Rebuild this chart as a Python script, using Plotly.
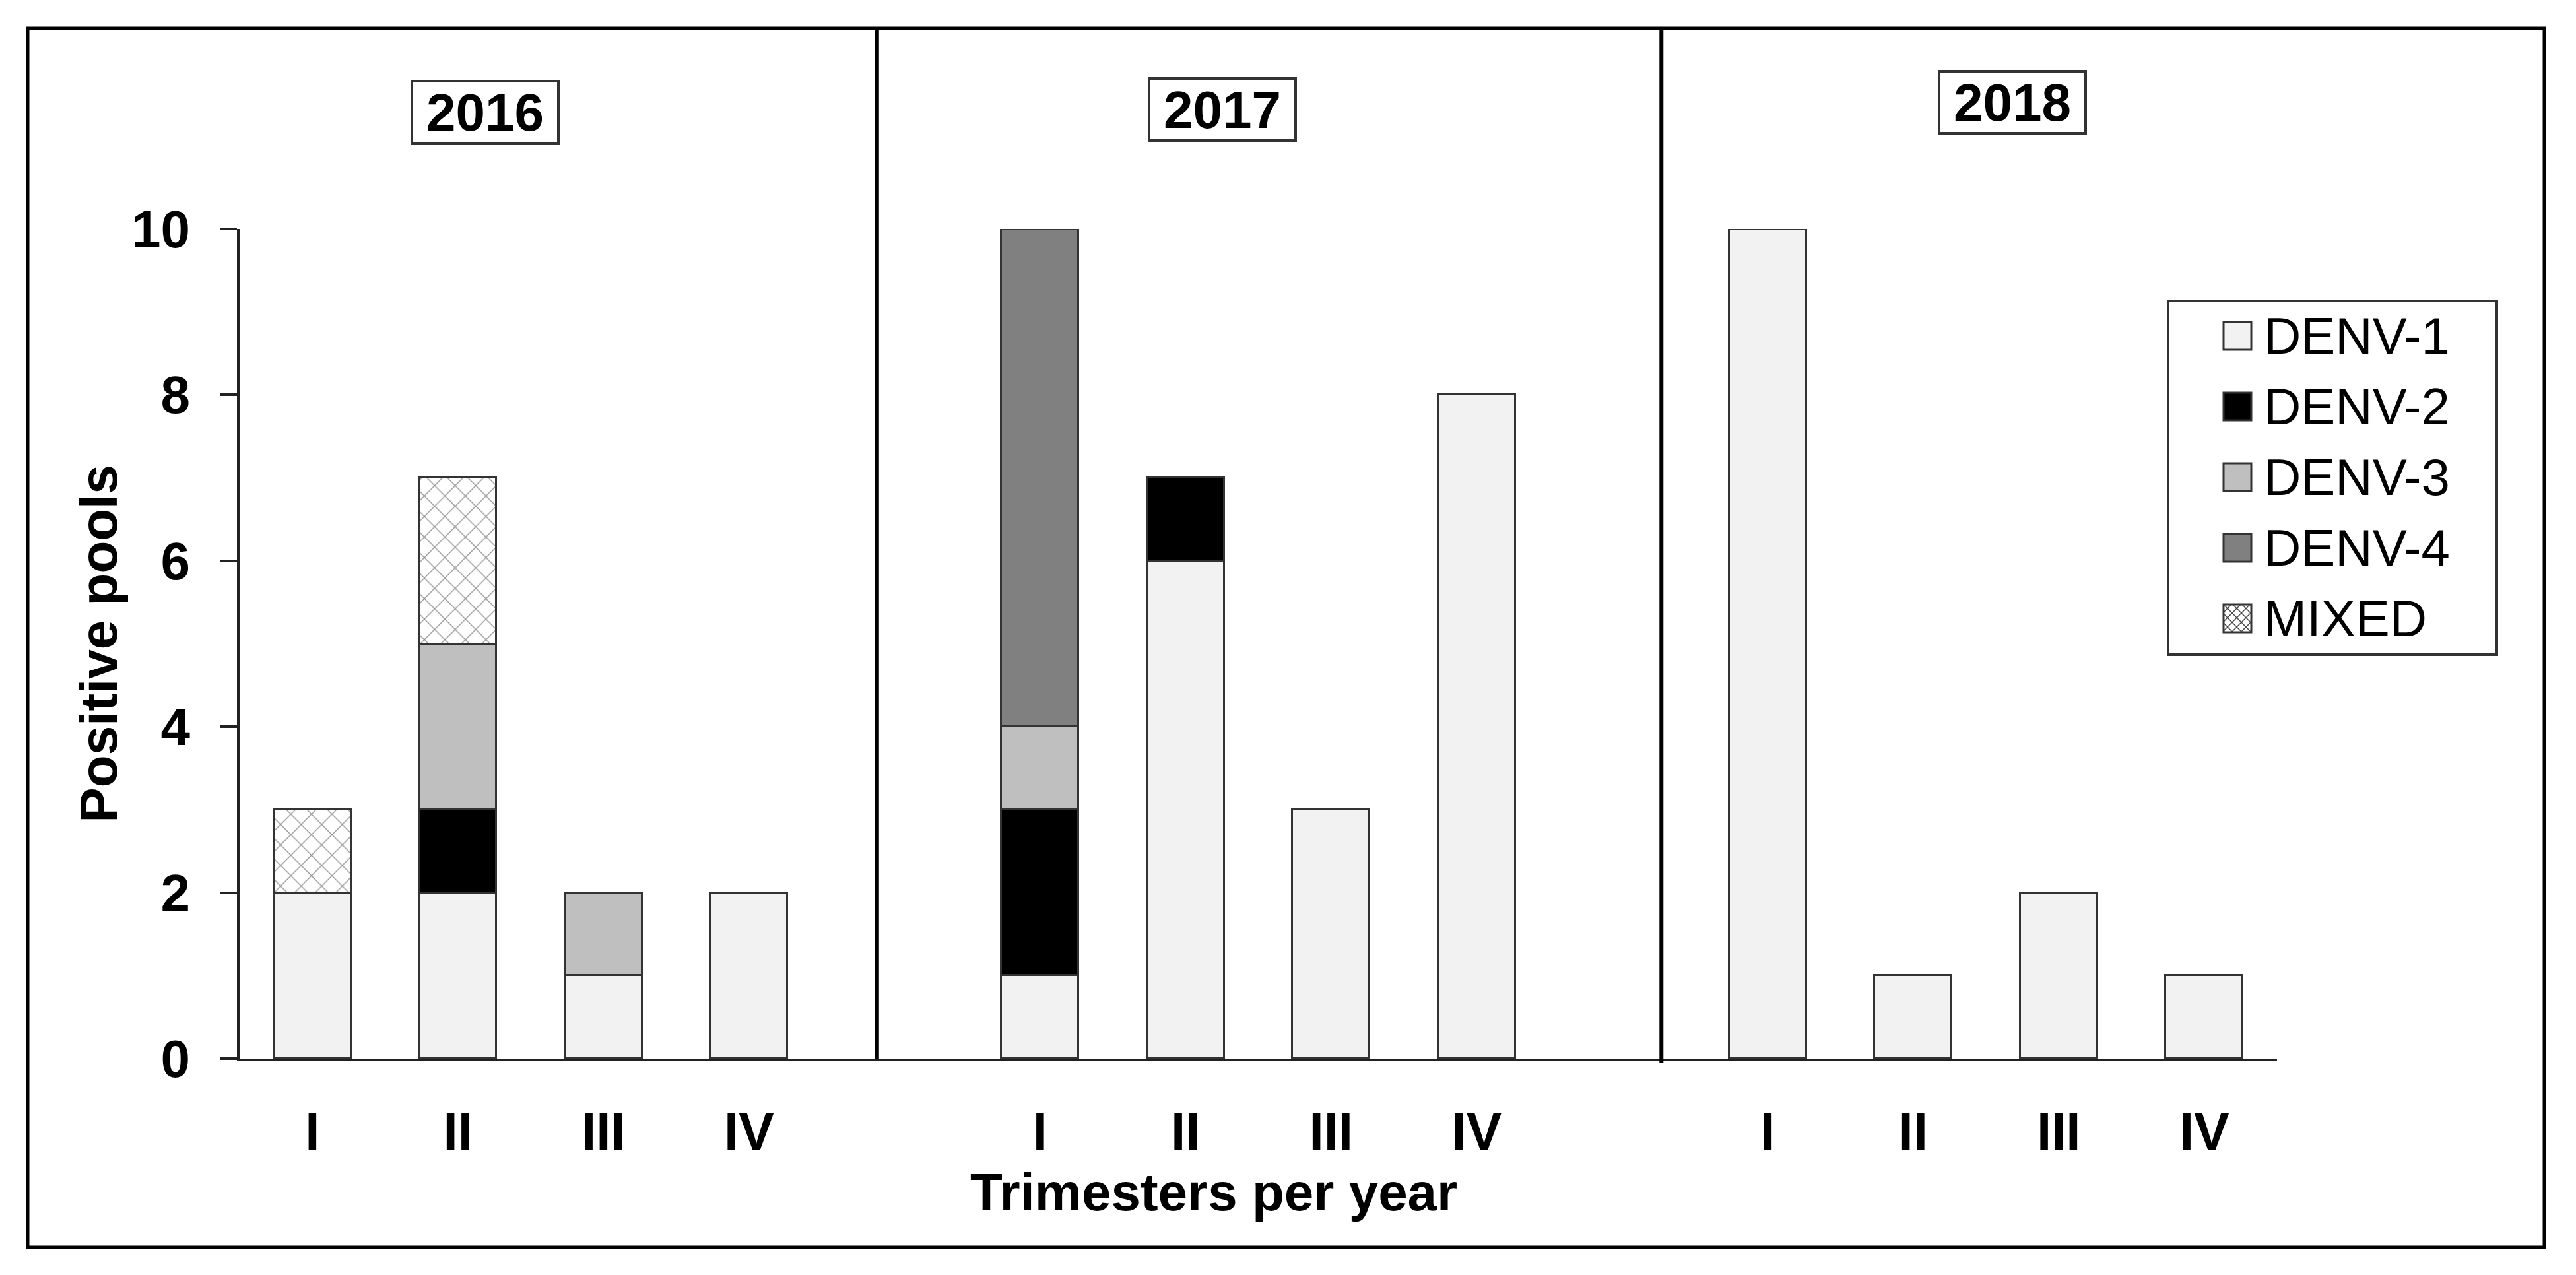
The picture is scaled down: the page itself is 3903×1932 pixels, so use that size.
import plotly.graph_objects as go

# ---------------- data ----------------
years = ["2016", "2017", "2018"]
trimesters = ["I", "II", "III", "IV"]
series_names = ["DENV-1", "DENV-2", "DENV-3", "DENV-4", "MIXED"]
# values ordered: 2016 I..IV, 2017 I..IV, 2018 I..IV  (None = no segment)
denv1 = [2, 2, 1, 2, 1, 6, 3, 8, 10, 1, 2, 1]
denv2 = [None, 1, None, None, 2, 1, None, None, None, None, None, None]
denv3 = [None, 2, 1, None, 1, None, None, None, None, None, None, None]
denv4 = [None, None, None, None, 6, None, None, None, None, None, None, None]
mixed = [1, 2, None, None, None, None, None, None, None, None, None, None]
y_ticks = [0, 2, 4, 6, 8, 10]

series_values = [denv1, denv2, denv3, denv4, mixed]
series_colors = ["#F2F2F2", "#000000", "#BFBFBF", "#808080", "#FFFFFF"]

# ---------------- layout geometry ----------------
FONT = "Liberation Sans, Arial, sans-serif"
FS = 80
W, H = 3887, 1916
OFF = 8  # page body margin
PL, PR, PT, PB = 363, 3450, 347, 1604  # plot area in screenshot pixels
ML, MT = PL - OFF, PT - OFF
MR = W - (PR - OFF)
MB = H - (PB - OFF)

slots_per_year = len(trimesters) + 1
x_pos = [yi * slots_per_year + qi for yi in range(len(years)) for qi in range(len(trimesters))]
x_labels = [t for _ in years for t in trimesters]
x_range = [-0.5, x_pos[-1] + 0.5]


def px(X):
    return (X - PL) / (PR - PL)


def py(Y):
    return (PB - Y) / (PB - PT)


def dx(xd):
    return (xd - x_range[0]) / (x_range[1] - x_range[0])


fig = go.Figure()
for name, vals, col in zip(series_names, series_values, series_colors):
    marker = dict(color=col, line=dict(color="#333333", width=3))
    if name == "MIXED":
        marker["pattern"] = dict(shape="x", bgcolor="#FFFFFF", fgcolor="#222222",
                                 size=22, solidity=0.12)
    fig.add_trace(go.Bar(x=x_pos, y=vals, name=name, marker=marker,
                         width=0.53, showlegend=False))

shapes = []
# outer frame
shapes.append(dict(type="rect", xref="paper", yref="paper",
                   x0=px(42), x1=px(3855), y0=py(1890), y1=py(43),
                   line=dict(color="#000000", width=5), layer="below"))
# year separators
for xd, ybot in [(3.88, 1604), (9.27, 1610)]:
    shapes.append(dict(type="line", xref="paper", yref="paper",
                       x0=dx(xd), x1=dx(xd), y0=py(ybot), y1=py(43),
                       line=dict(color="#000000", width=6)))

annotations = []
# year boxes
for yr, (cx, cy) in zip(years, [(735, 170), (1852, 166), (3049, 155)]):
    annotations.append(dict(text="<b>%s</b>" % yr, xref="paper", yref="paper",
                            x=px(cx), y=py(cy), xanchor="center", yanchor="middle",
                            showarrow=False, font=dict(family=FONT, size=FS, color="#000"),
                            bordercolor="#333333", borderwidth=4, borderpad=0,
                            bgcolor="#FFFFFF", width=218, height=90))
# axis titles
annotations.append(dict(text="<b>Positive pools</b>", xref="paper", yref="paper",
                        x=px(149), y=0.5, textangle=-90, showarrow=False,
                        xanchor="center", yanchor="middle",
                        font=dict(family=FONT, size=FS, color="#000")))
annotations.append(dict(text="<b>Trimesters per year</b>", xref="paper", yref="paper",
                        x=px(1839), y=py(1806), showarrow=False,
                        xanchor="center", yanchor="middle",
                        font=dict(family=FONT, size=FS, color="#000")))

# manual legend
shapes.append(dict(type="rect", xref="paper", yref="paper",
                   x0=px(3285), x1=px(3783), y0=py(992), y1=py(456),
                   line=dict(color="#333333", width=4), fillcolor="#FFFFFF"))
sw = 42
for i, (name, col) in enumerate(zip(series_names, series_colors)):
    cyp = 509 + i * 107
    x0, x1 = 3369, 3369 + sw
    y0, y1 = cyp - sw / 2, cyp + sw / 2
    shapes.append(dict(type="rect", xref="paper", yref="paper",
                       x0=px(x0), x1=px(x1), y0=py(y1), y1=py(y0),
                       line=dict(color="#333333", width=3), fillcolor=col))
    if name == "MIXED":
        segs = []
        for c in [12, 26, 40, 54, 68]:
            a, b = max(0, c - sw), min(sw, c)
            segs.append(((a, c - a), (b, c - b)))
        for c in [-28, -14, 0, 14, 28]:
            a, b = max(0, c), min(sw, sw + c)
            segs.append(((a, a - c), (b, b - c)))
        path = ""
        for (ax, ay), (bx, by) in segs:
            path += "M%.5f,%.5f L%.5f,%.5f " % (px(x0 + ax), py(y0 + ay), px(x0 + bx), py(y0 + by))
        shapes.append(dict(type="path", xref="paper", yref="paper", path=path,
                           line=dict(color="#444444", width=1.5)))
    annotations.append(dict(text=name, xref="paper", yref="paper",
                            x=px(3428), y=py(cyp), xanchor="left", yanchor="middle",
                            showarrow=False,
                            font=dict(family=FONT, size=78, color="#000")))

fig.update_layout(
    width=W, height=H,
    margin=dict(l=ML, r=MR, t=MT, b=MB, pad=0),
    paper_bgcolor="#FFFFFF", plot_bgcolor="#FFFFFF",
    barmode="stack", bargap=0,
    font=dict(family=FONT, size=FS, color="#000"),
    shapes=shapes, annotations=annotations,
    showlegend=False,
    xaxis=dict(range=x_range, tickmode="array", tickvals=x_pos,
               ticktext=["<b>%s</b>" % t for t in x_labels],
               showline=True, linecolor="#222222", linewidth=4,
               ticks="", showgrid=False, zeroline=False,
               ticklabelstandoff=38,
               tickfont=dict(family=FONT, size=FS, color="#000")),
    yaxis=dict(range=[0, 10], tickmode="array", tickvals=y_ticks,
               ticktext=["<b>%d</b>" % v for v in y_ticks],
               showline=True, linecolor="#222222", linewidth=4,
               ticks="outside", ticklen=25, tickwidth=4, tickcolor="#222222",
               showgrid=False, zeroline=False, ticklabelstandoff=30,
               tickfont=dict(family=FONT, size=FS, color="#000")),
)

fig.write_html("out.html")
